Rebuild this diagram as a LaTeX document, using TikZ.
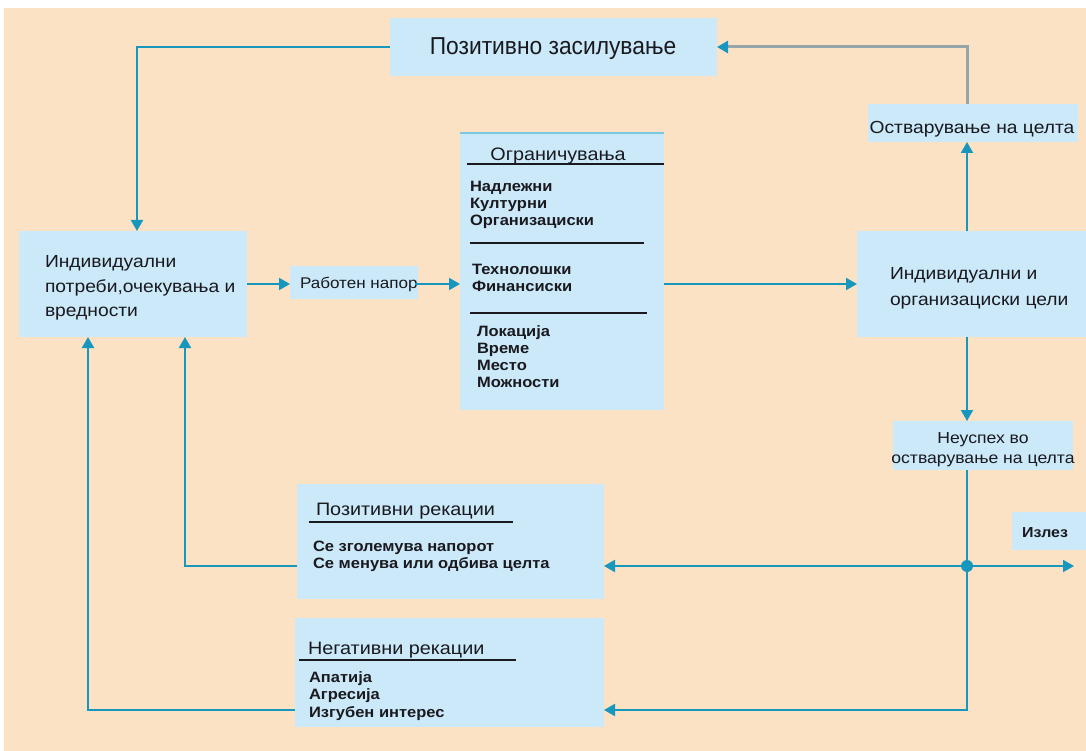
\documentclass[tikz,border=0pt]{standalone}
\usepackage{fontspec}
\setmainfont[FakeStretch=1.1]{Liberation Sans}
\newfontfamily\titlefont[FakeStretch=0.93]{Liberation Sans}
\usetikzlibrary{arrows.meta,calc}
\definecolor{peach}{RGB}{251,226,197}
\definecolor{boxblue}{RGB}{204,233,250}
\definecolor{tealc}{RGB}{23,150,190}
\definecolor{greyc}{RGB}{150,165,170}
\definecolor{inkc}{RGB}{25,25,30}
\definecolor{topline}{RGB}{120,200,225}
\newcommand\myfs[1]{\fontsize{#1}{#1}\selectfont}
\begin{document}
\begin{tikzpicture}[x=1pt,y=-1pt,
  box/.style={fill=boxblue, draw=none, inner sep=0, outer sep=0},
  txt/.style={inner sep=0, outer sep=0, anchor=base west, text=inkc},
  ctxt/.style={inner sep=0, outer sep=0, anchor=base, text=inkc},
  item/.style={txt, font=\bfseries\myfs{15}},
  conn/.style={draw=tealc, line width=2pt, -{Triangle[length=11pt,width=12pt]}},
  greyconn/.style={draw=greyc, line width=3pt, -{Triangle[length=11pt,width=12pt,color=tealc]}},
  rule/.style={draw=inkc, line width=1.6pt}
]
\useasboundingbox (0,0) rectangle (1086,751);
\fill[white] (0,0) rectangle (1086,751);
\fill[peach] (4,8) rectangle (1086,751);

% boxes
\node[box, minimum width=327pt, minimum height=58pt] (posz) at (553.5,47) {};
\node[box, minimum width=210pt, minimum height=38pt] (ostv) at (973,123) {};
\node[box, minimum width=228pt, minimum height=106pt] (indiv) at (133,284) {};
\node[box, minimum width=128pt, minimum height=33pt] (rab) at (354,282.5) {};
\node[box, minimum width=204pt, minimum height=277pt] (ogr) at (562,271.5) {};
\node[box, minimum width=229pt, minimum height=106pt] (goals) at (971.5,284) {};
\node[box, minimum width=180pt, minimum height=49pt] (neus) at (983,445.5) {};
\node[box, minimum width=74pt, minimum height=38pt] (izlez) at (1049,531) {};
\node[box, minimum width=307pt, minimum height=115pt] (posr) at (450.5,541.5) {};
\node[box, minimum width=309pt, minimum height=109pt] (negr) at (449.5,672.5) {};
\draw[topline, line width=1.2pt] (ogr.north west) -- (ogr.north east);

% texts
\node[ctxt, font=\titlefont\myfs{24.5}] (tposz) at (553,55) {Позитивно засилување};
\node[ctxt, font=\myfs{17.5}] (tostv) at (972,134) {Остварување на целта};
\node[txt, font=\myfs{17.5}] (ti1) at (45,268) {Индивидуални};
\node[txt, font=\myfs{17.5}] (ti2) at (45,292) {потреби,очекувања и};
\node[txt, font=\myfs{17.5}] (ti3) at (45,316) {вредности};
\node[txt, font=\myfs{15.5}] (trab) at (300,288) {Работен напор};
\node[txt, font=\myfs{17.5}] (tg1) at (890,279) {Индивидуални и};
\node[txt, font=\myfs{17.5}] (tg2) at (890,305) {организациски цели};
\node[ctxt, font=\myfs{16}] (tn1) at (983,443) {Неуспех во};
\node[ctxt, font=\myfs{16}] (tn2) at (983,463) {остварување на целта};
\node[ctxt, font=\bfseries\myfs{14.5}] (tiz) at (1045,537) {Излез};

\node[ctxt, font=\myfs{18}] (togr) at (558,161) {Ограничувања};
\draw[rule] (467,164) -- (664,164);
\node[item] (o1) at (470,192) {Надлежни};
\node[item] (o2) at (470,209) {Културни};
\node[item] (o3) at (470,226) {Организациски};
\draw[rule] (470,243) -- (644,243);
\node[item] (o4) at (472,274) {Технолошки};
\node[item] (o5) at (472,291) {Финансиски};
\draw[rule] (470,313) -- (647,313);
\node[item] (o6) at (477,336) {Локација};
\node[item] (o7) at (477,353) {Време};
\node[item] (o8) at (477,370) {Место};
\node[item] (o9) at (477,387) {Можности};

\node[txt, font=\myfs{18}] (tpr) at (316,515) {Позитивни рекации};
\draw[rule] (309,522) -- (513,522);
\node[item] (p1) at (313,551) {Се зголемува напорот};
\node[item] (p2) at (313,568) {Се менува или одбива целта};

\node[txt, font=\myfs{18}] (tnr) at (308,654) {Негативни рекации};
\draw[rule] (299,660) -- (516,660);
\node[item] (n1) at (309,682) {Апатија};
\node[item] (n2) at (309,699) {Агресија};
\node[item] (n3) at (309,717) {Изгубен интерес};

% helper coordinates
\coordinate (colx) at (967,0);
\coordinate (c1) at (185,0);
\coordinate (c2) at (88,0);
\coordinate (c0) at (137,0);
\coordinate (negIn) at (604,710);
\coordinate (exitEnd) at (1074,566);
\node[circle, fill=tealc, inner sep=0, minimum size=12pt] (junc) at (967,566) {};

% connectors
\draw[conn] (posz.west) -| (indiv.north -| c0);
\draw[greyconn] (ostv.north -| colx) |- (posz.east);
\draw[conn] (goals.north -| colx) -- (ostv.south -| colx);
\draw[conn] (indiv.east) -- (indiv.east -| rab.west);
\draw[conn] ([xshift=-3pt]rab.east |- indiv.east) -- (indiv.east -| ogr.west);
\draw[conn] (goals.west -| ogr.east) -- (goals.west);
\draw[conn] (goals.south -| colx) -- (neus.north -| colx);
\draw[conn] (neus.south -| colx) |- (negIn);
\draw[conn] (junc) -- (junc -| posr.east);
\draw[conn] (junc) -- (exitEnd);
\draw[conn] (posr.west |- junc) -| (indiv.south -| c1);
\draw[conn] (negr.west |- negIn) -| (indiv.south -| c2);
\end{tikzpicture}
\end{document}
